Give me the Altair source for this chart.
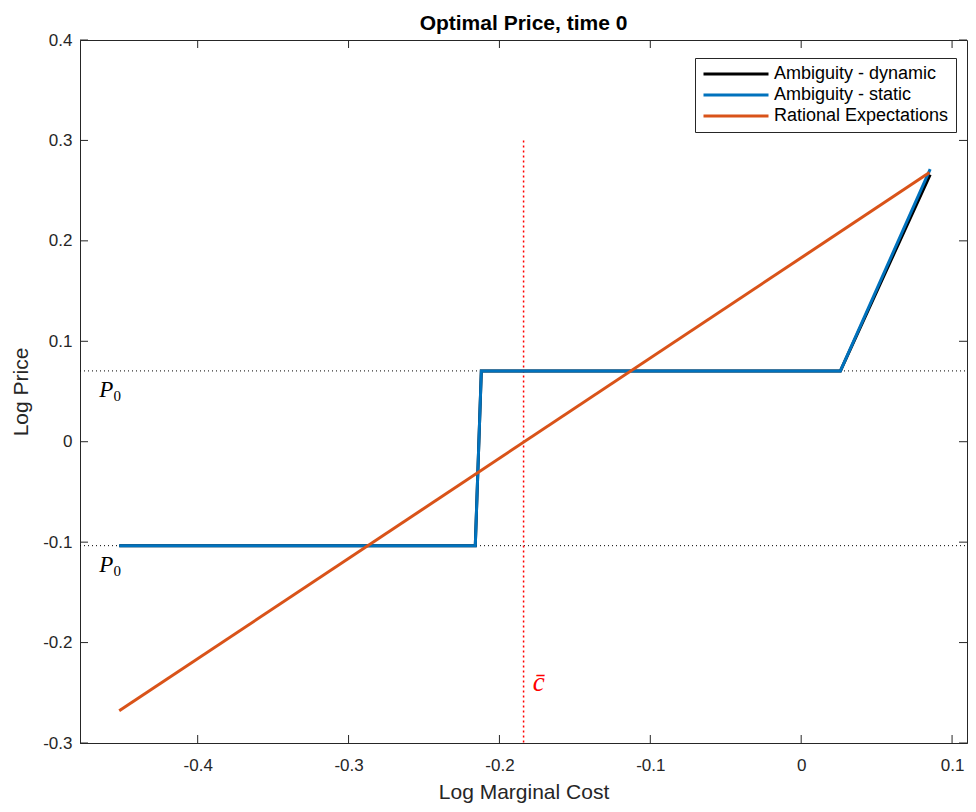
import altair as alt
import pandas as pd

# ---- data ----
series_names = ["Ambiguity - dynamic", "Ambiguity - static", "Rational Expectations"]
series_colors = ["#000000", "#0072BD", "#D95319"]

dyn_x = [-0.452, -0.216, -0.212, 0.026, 0.0855]
dyn_y = [-0.1035, -0.1035, 0.0705, 0.0705, 0.266]

sta_x = [-0.452, -0.216, -0.212, 0.026, 0.0855]
sta_y = [-0.1035, -0.1035, 0.0705, 0.0705, 0.2715]

re_x = [-0.452, 0.085]
re_y = [-0.268, 0.268]

p0_levels = [0.0705, -0.1035]
cbar = -0.184
cbar_top = 0.3

p_label_x = [-0.4606, -0.4606]
p_label_y = [0.0515, -0.1227]
c_label_x = [-0.174]
c_label_y = [-0.240]

x_ticks = [-0.4, -0.3, -0.2, -0.1, 0.0, 0.1]
y_ticks = [-0.3, -0.2, -0.1, 0.0, 0.1, 0.2, 0.3, 0.4]
x_domain = [-0.478, 0.1099]
y_domain = [-0.3, 0.4]

W, H = 887, 703

rows = []
for name, xs_, ys_ in zip(series_names, [dyn_x, sta_x, re_x], [dyn_y, sta_y, re_y]):
    for i, (a, b) in enumerate(zip(xs_, ys_)):
        rows.append({"series": name, "x": a, "y": b, "i": i})
lines_df = pd.DataFrame(rows)

xs = alt.Scale(domain=x_domain, nice=False, zero=False)
ys = alt.Scale(domain=y_domain, nice=False, zero=False)
lab = ("replace(format(datum.value, '.1f'), '\u2212', '-') == '0.0' ? '0' : "
       "replace(format(datum.value, '.1f'), '\u2212', '-')")

x_enc = alt.X("x:Q", scale=xs, axis=alt.Axis(values=x_ticks, labelExpr=lab, ticks=False, grid=False,
                                             title="Log Marginal Cost", labelPadding=14,
                                             labelFontSize=17, titleFontSize=21, titlePadding=8,
                                             titleFontWeight="normal"))
y_enc = alt.Y("y:Q", scale=ys, axis=alt.Axis(values=y_ticks, labelExpr=lab, ticks=False, grid=False,
                                             title="Log Price", labelPadding=8,
                                             labelFontSize=17, titleFontSize=21, titlePadding=11,
                                             titleFontWeight="normal"))

color = alt.Color("series:N", scale=alt.Scale(domain=series_names, range=series_colors),
                  legend=alt.Legend(title=None, orient="none", legendX=615, legendY=18,
                                    symbolType="stroke", symbolSize=4225, symbolStrokeWidth=3,
                                    clipHeight=18, labelFontSize=18, labelColor="#000000",
                                    rowPadding=3, labelOffset=4, padding=7,
                                    strokeColor="#262626", fillColor="#FFFFFF", labelLimit=400))

base = alt.Chart(lines_df)

def series_line(name):
    return base.transform_filter(alt.datum.series == name).mark_line(strokeWidth=3).encode(
        x=x_enc, y=y_enc, color=color, order="i:Q")

hdf = pd.DataFrame({"y": p0_levels})
hlines = alt.Chart(hdf).mark_rule(color="#000000", strokeWidth=1, strokeDash=[1, 3]).encode(
    y=alt.Y("y:Q", scale=ys), x=alt.value(0), x2=alt.value(W))

vdf = pd.DataFrame({"x": [cbar], "y": [cbar_top], "y2": [y_domain[0]]})
vline = alt.Chart(vdf).mark_rule(color="#FF0000", strokeWidth=1.5, strokeDash=[2, 3]).encode(
    x=alt.X("x:Q", scale=xs), y=alt.Y("y:Q", scale=ys), y2="y2:Q")

pdf = pd.DataFrame({"x": p_label_x, "y": p_label_y})
p_main = alt.Chart(pdf).mark_text(font="Liberation Serif", fontStyle="italic", fontSize=23,
                                  color="#000000").encode(
    x=alt.X("x:Q", scale=xs), y=alt.Y("y:Q", scale=ys), text=alt.value("P"))
p_sub = alt.Chart(pdf).mark_text(font="Liberation Serif", fontSize=15, color="#000000",
                                 dx=11, dy=6).encode(
    x=alt.X("x:Q", scale=xs), y=alt.Y("y:Q", scale=ys), text=alt.value("0"))

cdf = pd.DataFrame({"x": c_label_x, "y": c_label_y})
c_lab = alt.Chart(cdf).mark_text(font="Liberation Serif", fontStyle="italic", fontSize=27,
                                 color="#FF0000").encode(
    x=alt.X("x:Q", scale=xs), y=alt.Y("y:Q", scale=ys), text=alt.value("c\u0304"))

TL = 8
xt = pd.DataFrame({"x": x_ticks})
yt = pd.DataFrame({"y": y_ticks})
tick_style = dict(color="#262626", strokeWidth=1)
bt = alt.Chart(xt).mark_rule(**tick_style).encode(x=alt.X("x:Q", scale=xs), y=alt.value(H), y2=alt.value(H - TL))
tt = alt.Chart(xt).mark_rule(**tick_style).encode(x=alt.X("x:Q", scale=xs), y=alt.value(0), y2=alt.value(TL))
lt = alt.Chart(yt).mark_rule(**tick_style).encode(y=alt.Y("y:Q", scale=ys), x=alt.value(0), x2=alt.value(TL))
rt = alt.Chart(yt).mark_rule(**tick_style).encode(y=alt.Y("y:Q", scale=ys), x=alt.value(W), x2=alt.value(W - TL))

chart = alt.layer(
    hlines, vline,
    series_line(series_names[0]), series_line(series_names[1]), series_line(series_names[2]),
    p_main, p_sub, c_lab, bt, tt, lt, rt,
).properties(
    width=W, height=H,
    title=alt.TitleParams("Optimal Price, time 0", fontSize=21, fontWeight="bold", color="#000000",
                          offset=-3, anchor="middle"),
    autosize=alt.AutoSizeParams(type="none"),
    padding={"left": 72, "top": 32, "right": 1, "bottom": 61},
).configure(
    font="Liberation Sans",
).configure_view(
    stroke="#262626", strokeWidth=1,
).configure_axis(
    domainColor="#262626", labelColor="#262626", titleColor="#262626", labelFont="Liberation Sans",
    titleFont="Liberation Sans",
)

chart.save("out.html", embed_options={"renderer": "svg", "actions": False})
